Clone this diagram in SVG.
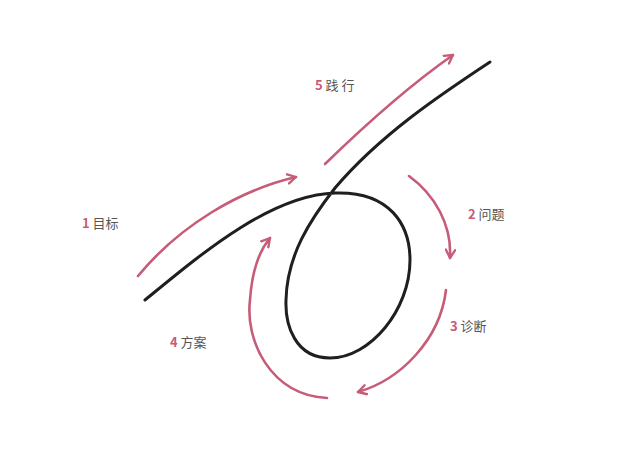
<svg xmlns="http://www.w3.org/2000/svg" width="640" height="449" viewBox="0 0 640 449">
<style>
.ink{fill:none;stroke:#1f1f1f;stroke-width:3;stroke-linecap:round}
.arr{fill:none;stroke:#c65c77;stroke-width:2.6;stroke-linecap:round;marker-end:url(#ah)}
.lbl{font-family:"Noto Sans CJK SC","Noto Sans",sans-serif;font-size:13px;fill:#555}
.num{fill:#c65c77;font-weight:bold}
</style>
<defs>
<marker id="ah" viewBox="0 0 10 10" refX="8" refY="5" markerWidth="4.5" markerHeight="4.5" orient="auto" markerUnits="strokeWidth">
<path d="M1,1 L8,5 L1,9" fill="none" stroke="#c65c77" stroke-width="2" stroke-linecap="round" stroke-linejoin="round"/>
</marker>
</defs>
<rect width="640" height="449" fill="#fff"/>
<g id="curve">
<path class="ink" d="M145,300 C200,255 270,195 335,193 C390,191 410,225 410,260 C410,310 370,358 330,358 C295,358 285,325 286,300 C287,255 310,220 335,188 C380,135 440,95 490,62"/>
</g>
<g id="connectors">
<path class="arr" d="M138,276 C180,225 240,190 296,177"/>
<path class="arr" d="M409,176 C435,195 452,225 450,258"/>
<path class="arr" d="M446,290 C440,340 400,380 358,392"/>
<path class="arr" d="M327,398 C270,395 245,340 250,300 C252,270 260,250 270,238"/>
<path class="arr" d="M325,164 C360,130 410,85 453,55"/>
</g>
<g id="n1"><text class="lbl" x="82" y="228"><tspan class="num">1</tspan> 目标</text></g>
<g id="n2"><text class="lbl" x="468" y="219"><tspan class="num">2</tspan> 问题</text></g>
<g id="n3"><text class="lbl" x="450" y="331"><tspan class="num">3</tspan> 诊断</text></g>
<g id="n4"><text class="lbl" x="170" y="347"><tspan class="num">4</tspan> 方案</text></g>
<g id="n5"><text class="lbl" x="315" y="90"><tspan class="num">5</tspan> 践 行</text></g>
</svg>
